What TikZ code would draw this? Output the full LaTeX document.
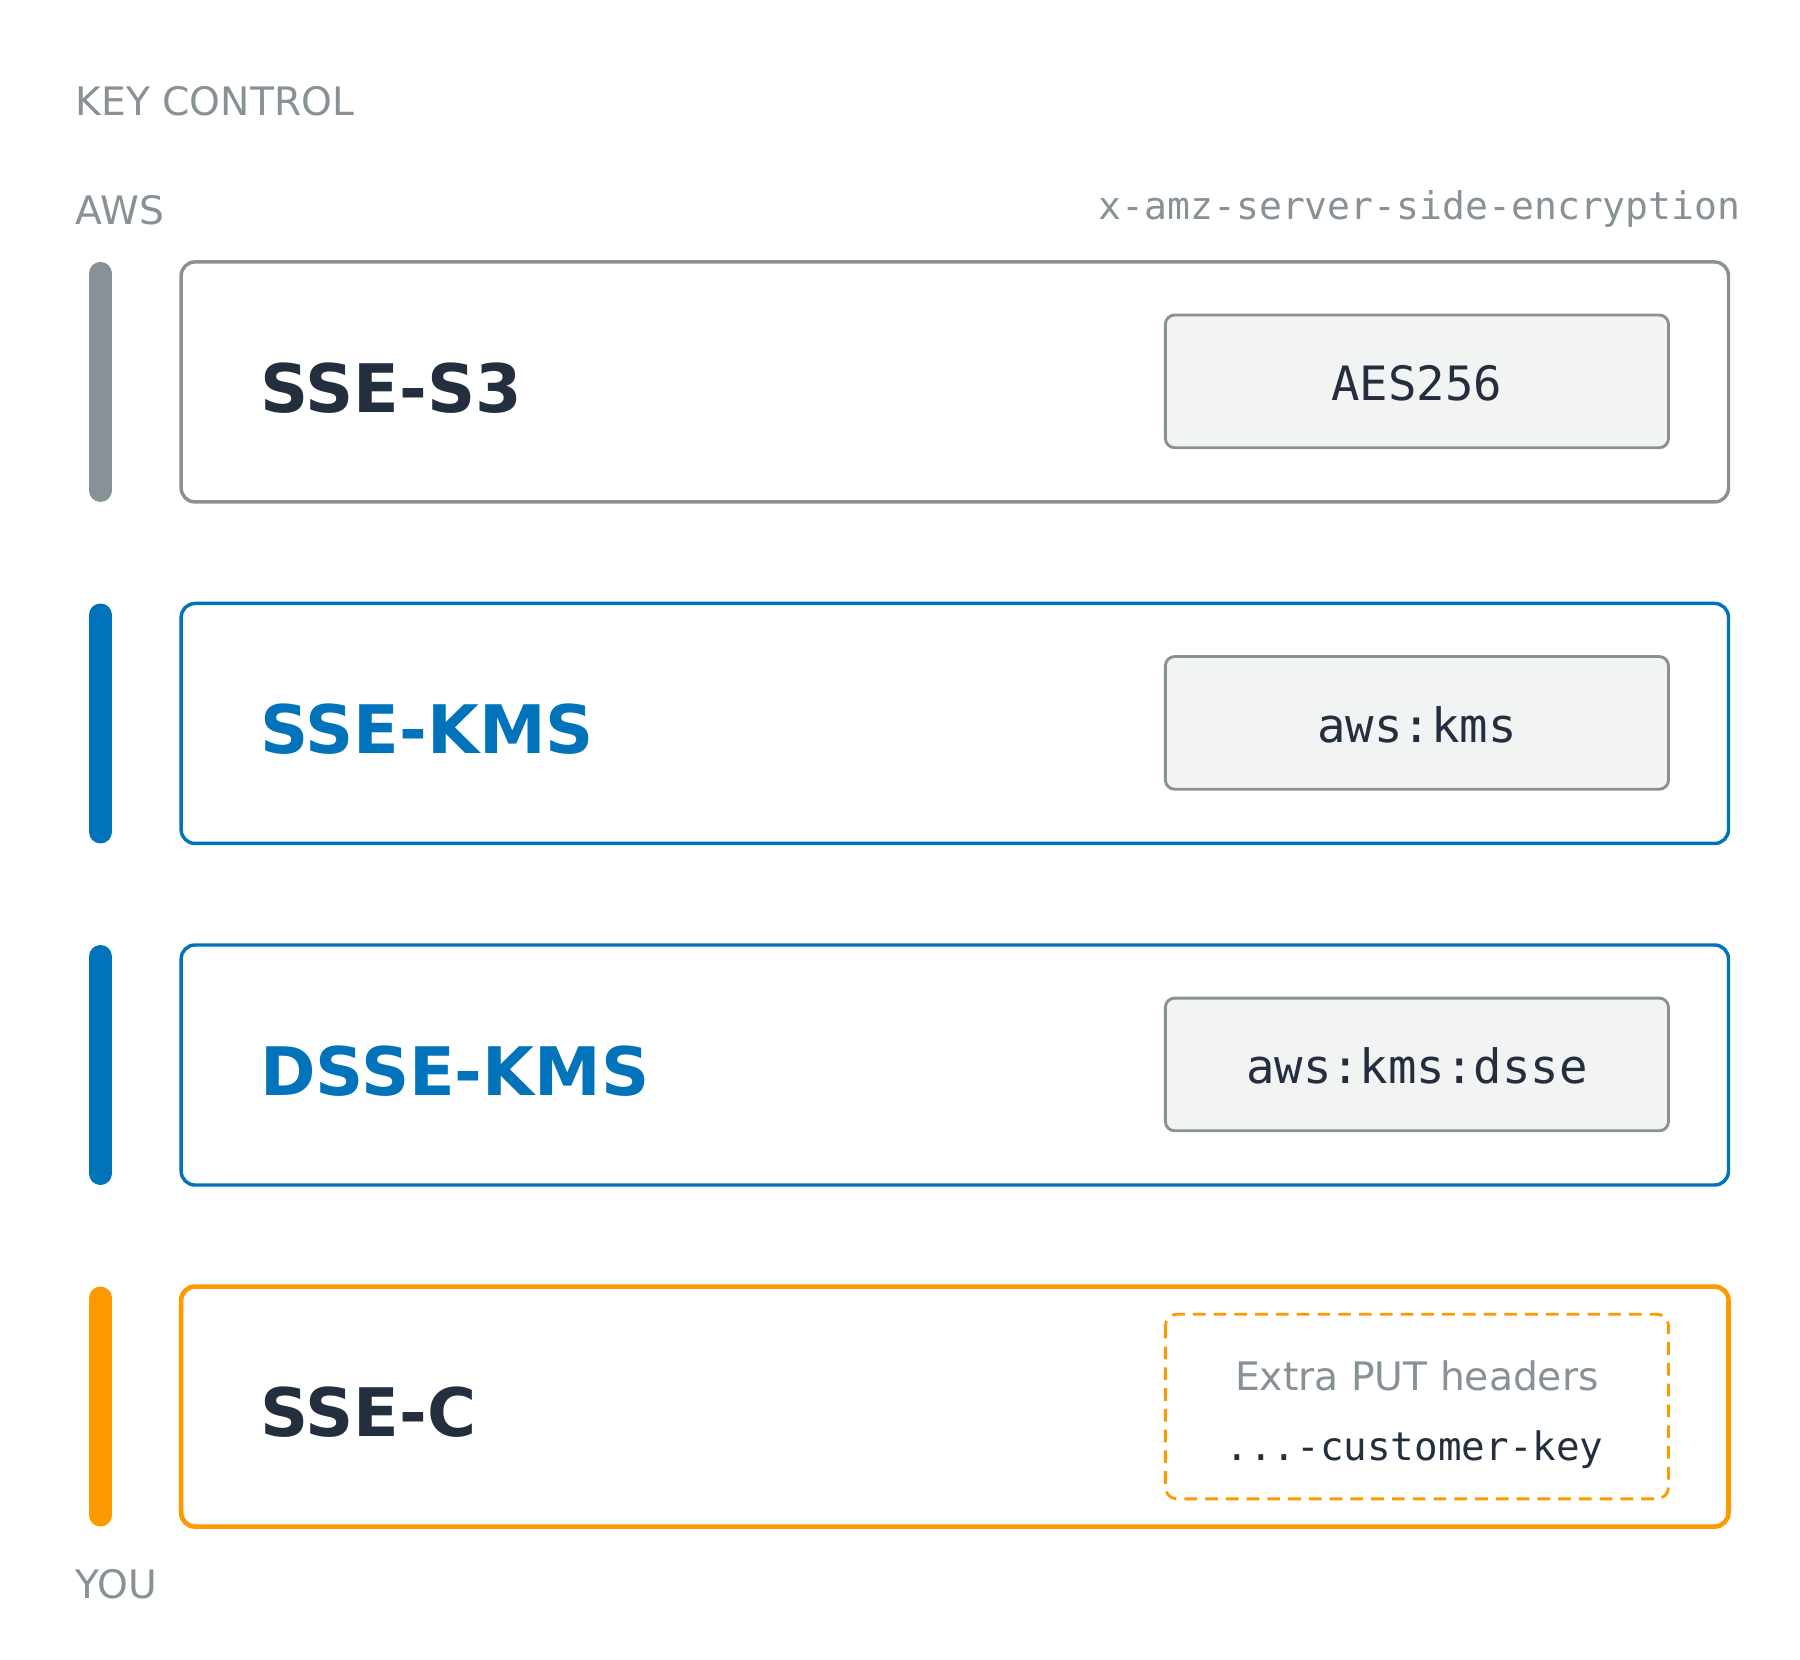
\documentclass[tikz,border=0pt]{standalone}
\usepackage{fontspec}
\setmainfont{DejaVu Sans}
\setmonofont{DejaVu Sans Mono}
\definecolor{gr}{HTML}{879196}
\definecolor{bl}{HTML}{0073BB}
\definecolor{og}{HTML}{FF9900}
\definecolor{dk}{HTML}{232F3E}
\definecolor{lf}{HTML}{F2F3F3}
\begin{document}
\begin{tikzpicture}[x=1pt,y=-1pt,
 lab/.style={anchor=west,text=gr,font=\fontsize{34}{40}\selectfont},
 bar/.style={line width=20pt,line cap=round},
 box/.style={draw,line width=3pt,rounded corners=12pt},
 inner/.style={draw=gr,line width=2.5pt,fill=lf,rounded corners=8pt},
 title/.style={anchor=west,font=\fontsize{58}{66}\selectfont\bfseries},
 code/.style={font=\fontsize{41}{48}\selectfont\ttfamily,text=dk}]
\useasboundingbox (0,0) rectangle (1560,1438);
\node[lab] (kc) at (62,88) {KEY CONTROL};
\node[lab] (aws) at (62,182) {AWS};
\node[lab] (you) at (62,1373) {YOU};
\node[anchor=east,text=gr,font=\fontsize{33}{40}\selectfont\ttfamily] (hdr) at (1512,181) {x-amz-server-side-encryption};
% rows
\foreach \t/\c/\tc/\code/\n [count=\i from 0] in {227/gr/dk/AES256/a, 523/bl/bl/aws:kms/b, 819/bl/bl/aws:kms:dsse/c}{
  \draw[bar,\c] (87,\t+10) coordinate (bt\n) -- (87,\t+198) coordinate (bb\n);
  \draw[box,draw=\c] (157,\t) rectangle (1498,\t+208);
}
\node[title,text=dk] (t1) at (222,336) {SSE-S3};
\node[title,text=bl] (t2) at (222,632) {SSE-KMS};
\node[title,text=bl] (t3) at (222,928) {DSSE-KMS};
\node[title,text=dk] (t4) at (222,1224) {SSE-C};
\draw[inner] (1010,273) rectangle (1446,388);
\node[code] (c1) at (1228,332) {AES256};
\draw[inner] (1010,569) rectangle (1446,684);
\node[code] (c2) at (1228,628) {aws:kms};
\draw[inner] (1010,865) rectangle (1446,980);
\node[code] (c3) at (1228,924) {aws:kms:dsse};
\draw[bar,og] (87,1125) coordinate (btd) -- (87,1313) coordinate (bbd);
\draw[box,draw=og,line width=4pt] (157,1115) rectangle (1498,1323);
\draw[og,line width=2.5pt,dash pattern=on 11pt off 7pt,rounded corners=10pt] (1010,1139) rectangle (1446,1299);
\node[text=gr,font=\fontsize{34}{40}\selectfont] (ex) at (1228,1192) {Extra PUT headers};
\node[code,font=\fontsize{34}{40}\selectfont\ttfamily] (ck) at (1226,1256) {...-customer-key};
\end{tikzpicture}
\end{document}
